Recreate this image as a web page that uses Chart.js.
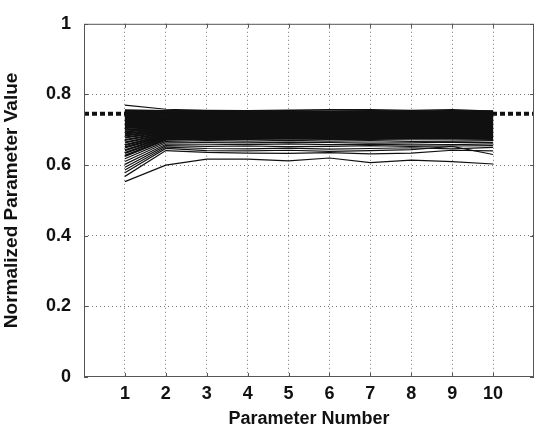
<!DOCTYPE html>
<html lang="en">
<head>
    <meta charset="UTF-8">
    <title>Normalized Parameter Value</title>
    <style>
        html, body { margin: 0; padding: 0; background: #fff; }
        #wrap { width: 540px; height: 441px; }
    </style>
    <script src="https://cdn.jsdelivr.net/npm/chart.js"></script>
</head>
<body>
    <div id="wrap"><canvas id="paramChart" width="540" height="441"></canvas></div>

    <script>
        // parameter numbers on the x axis
        const paramNumbers = [1, 2, 3, 4, 5, 6, 7, 8, 9, 10];
        const yTicks = [0, 0.2, 0.4, 0.6, 0.8, 1];
        const referenceLevel = 0.745;

        // one row per solution, normalized value for parameters 1..10
        const solutions = [
            [0.770, 0.758, 0.755, 0.754, 0.756, 0.757, 0.757, 0.755, 0.757, 0.753],
            [0.755, 0.753, 0.753, 0.752, 0.753, 0.752, 0.753, 0.752, 0.753, 0.752],
            [0.752, 0.750, 0.750, 0.749, 0.750, 0.749, 0.750, 0.750, 0.749, 0.750],
            [0.749, 0.748, 0.747, 0.747, 0.746, 0.747, 0.746, 0.747, 0.748, 0.747],
            [0.746, 0.745, 0.744, 0.745, 0.744, 0.743, 0.744, 0.743, 0.744, 0.745],
            [0.743, 0.742, 0.742, 0.741, 0.742, 0.741, 0.740, 0.742, 0.741, 0.742],
            [0.740, 0.739, 0.739, 0.738, 0.739, 0.738, 0.738, 0.737, 0.739, 0.738],
            [0.737, 0.736, 0.736, 0.736, 0.735, 0.736, 0.735, 0.736, 0.735, 0.736],
            [0.734, 0.733, 0.733, 0.733, 0.733, 0.732, 0.733, 0.732, 0.733, 0.733],
            [0.731, 0.730, 0.731, 0.730, 0.730, 0.730, 0.729, 0.730, 0.730, 0.730],
            [0.728, 0.727, 0.728, 0.727, 0.728, 0.727, 0.727, 0.727, 0.726, 0.727],
            [0.725, 0.724, 0.725, 0.725, 0.724, 0.724, 0.724, 0.725, 0.724, 0.724],
            [0.721, 0.721, 0.722, 0.721, 0.722, 0.721, 0.722, 0.721, 0.722, 0.721],
            [0.717, 0.718, 0.719, 0.719, 0.718, 0.719, 0.718, 0.719, 0.718, 0.719],
            [0.713, 0.715, 0.716, 0.716, 0.716, 0.715, 0.716, 0.716, 0.715, 0.716],
            [0.709, 0.712, 0.713, 0.713, 0.713, 0.713, 0.712, 0.713, 0.713, 0.713],
            [0.705, 0.709, 0.711, 0.710, 0.710, 0.710, 0.710, 0.709, 0.710, 0.710],
            [0.700, 0.706, 0.708, 0.707, 0.708, 0.707, 0.707, 0.707, 0.708, 0.707],
            [0.695, 0.703, 0.705, 0.705, 0.704, 0.705, 0.704, 0.705, 0.704, 0.705],
            [0.690, 0.700, 0.702, 0.702, 0.702, 0.701, 0.702, 0.701, 0.702, 0.702],
            [0.684, 0.697, 0.699, 0.699, 0.699, 0.699, 0.698, 0.699, 0.699, 0.699],
            [0.678, 0.694, 0.696, 0.696, 0.695, 0.696, 0.696, 0.695, 0.696, 0.696],
            [0.671, 0.691, 0.693, 0.693, 0.693, 0.692, 0.693, 0.693, 0.692, 0.693],
            [0.664, 0.688, 0.690, 0.690, 0.690, 0.690, 0.689, 0.690, 0.690, 0.690],
            [0.657, 0.685, 0.687, 0.687, 0.686, 0.687, 0.687, 0.686, 0.687, 0.687],
            [0.650, 0.682, 0.684, 0.684, 0.684, 0.683, 0.684, 0.684, 0.683, 0.684],
            [0.642, 0.679, 0.681, 0.681, 0.681, 0.681, 0.680, 0.681, 0.681, 0.681],
            [0.634, 0.676, 0.678, 0.678, 0.678, 0.677, 0.678, 0.678, 0.677, 0.678],
            [0.626, 0.672, 0.675, 0.674, 0.675, 0.674, 0.674, 0.675, 0.675, 0.674],
            [0.618, 0.667, 0.669, 0.668, 0.670, 0.668, 0.669, 0.667, 0.668, 0.669],
            [0.610, 0.663, 0.664, 0.663, 0.665, 0.664, 0.662, 0.663, 0.665, 0.664],
            [0.602, 0.659, 0.659, 0.658, 0.660, 0.658, 0.659, 0.657, 0.658, 0.660],
            [0.594, 0.655, 0.653, 0.654, 0.652, 0.653, 0.655, 0.653, 0.654, 0.655],
            [0.586, 0.651, 0.647, 0.646, 0.648, 0.645, 0.647, 0.649, 0.646, 0.650],
            [0.578, 0.647, 0.641, 0.640, 0.642, 0.639, 0.641, 0.644, 0.653, 0.630],
            [0.568, 0.641, 0.636, 0.634, 0.633, 0.635, 0.632, 0.634, 0.642, 0.640],
            [0.553, 0.600, 0.617, 0.617, 0.612, 0.620, 0.607, 0.614, 0.610, 0.603]
        ];
        // how many of the rows above belong to the dense upper band
        const bandRows = 29;

        const FONT = 'Liberation Sans, Arial, sans-serif';

        // box around the plot plus small inward ticks, like the original figure
        const framePlugin = {
            id: 'frame',
            afterDraw(chart) {
                const { ctx, chartArea: a, scales } = chart;
                ctx.save();
                ctx.strokeStyle = '#555';
                ctx.lineWidth = 1;
                ctx.strokeRect(a.left + 0.5, a.top + 0.5, a.right - a.left - 1, a.bottom - a.top - 1);
                ctx.beginPath();
                paramNumbers.forEach(n => {
                    const x = Math.round(scales.x.getPixelForValue(n)) + 0.5;
                    ctx.moveTo(x, a.bottom); ctx.lineTo(x, a.bottom - 4);
                    ctx.moveTo(x, a.top); ctx.lineTo(x, a.top + 4);
                });
                yTicks.forEach(v => {
                    const y = Math.round(scales.y.getPixelForValue(v)) + 0.5;
                    ctx.moveTo(a.left, y); ctx.lineTo(a.left + 4, y);
                    ctx.moveTo(a.right, y); ctx.lineTo(a.right - 4, y);
                });
                ctx.stroke();
                ctx.restore();
            }
        };

        const datasets = solutions.map((row, r) => ({
            data: row.map((v, i) => ({ x: paramNumbers[i], y: v })),
            borderColor: '#111',
            borderWidth: (r > 0 && r < bandRows) ? 2.2 : 1.2,
            pointRadius: 0,
            tension: 0,
            order: 1
        }));

        // thick dotted reference line, behind the solution lines
        datasets.push({
            data: [{ x: 0, y: referenceLevel }, { x: 11, y: referenceLevel }],
            borderColor: '#111',
            borderWidth: 4,
            borderDash: [5, 3],
            pointRadius: 0,
            order: 2
        });

        const ctx = document.getElementById('paramChart').getContext('2d');
        new Chart(ctx, {
            type: 'line',
            data: { datasets: datasets },
            options: {
                responsive: false,
                animation: false,
                layout: { padding: { left: 0, right: 3, top: 17, bottom: 0 } },
                plugins: { legend: { display: false }, tooltip: { enabled: false } },
                scales: {
                    x: {
                        type: 'linear',
                        min: 0,
                        max: 11,
                        afterFit: s => { s.height = 64; },
                        ticks: {
                            stepSize: 1,
                            color: '#111',
                            padding: 6,
                            font: { family: FONT, size: 18, weight: 'bold' },
                            callback: v => (v >= 1 && v <= 10) ? v : ''
                        },
                        grid: {
                            drawTicks: false,
                            color: c => (c.tick && c.tick.value > 0 && c.tick.value < 11) ? '#777' : 'rgba(0,0,0,0)'
                        },
                        border: { display: false, dash: [1, 3] },
                        title: {
                            display: true,
                            text: 'Parameter Number',
                            color: '#111',
                            padding: { top: 10, bottom: 11 },
                            font: { family: FONT, size: 18, weight: 'bold' }
                        }
                    },
                    y: {
                        min: 0,
                        max: 1,
                        afterFit: s => { s.width = 84; },
                        ticks: {
                            stepSize: 0.2,
                            color: '#111',
                            padding: 13,
                            font: { family: FONT, size: 18, weight: 'bold' },
                            callback: v => Math.round(v * 10) / 10
                        },
                        grid: {
                            drawTicks: false,
                            color: c => (c.tick && c.tick.value > 0.01 && c.tick.value < 0.99) ? '#777' : 'rgba(0,0,0,0)'
                        },
                        border: { display: false, dash: [1, 3] },
                        title: {
                            display: true,
                            text: 'Normalized Parameter Value',
                            color: '#111',
                            padding: { top: 0, bottom: 4 },
                            font: { family: FONT, size: 19, weight: 'bold' }
                        }
                    }
                }
            },
            plugins: [framePlugin]
        });
    </script>
</body>
</html>
